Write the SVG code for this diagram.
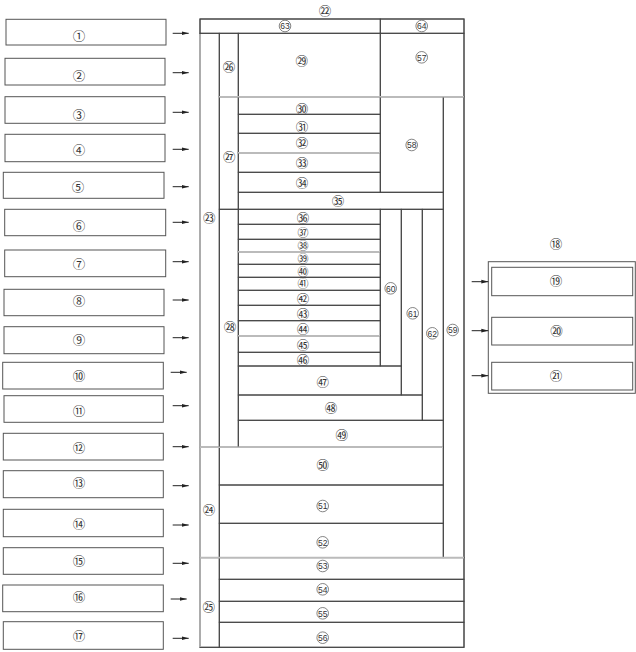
<svg xmlns="http://www.w3.org/2000/svg" width="636" height="652" viewBox="0 0 636 652">
<style>
.b{fill:none;stroke:#555;stroke-width:1}
.c{fill:none;stroke:#444;stroke-width:1}
.g{stroke:#bbb;stroke-width:1.6;fill:none}
.n{font-family:"Noto Sans CJK JP","DejaVu Sans",sans-serif;font-size:12.5px;fill:#333;text-anchor:middle;dominant-baseline:central}
.s{font-size:11px}
.cc{fill:#fff;stroke:#666;stroke-width:0.8}
.d{font-family:"Liberation Sans",Arial,sans-serif;font-size:8.5px;fill:#333;text-anchor:middle;dominant-baseline:central}
.a{stroke:#222;stroke-width:1;fill:none}
</style>
<defs>
<marker id="ah" markerWidth="7" markerHeight="5" refX="7" refY="2.5" orient="auto" markerUnits="userSpaceOnUse">
<path d="M0,0.6 L7,2.5 L0,4.4 Z" fill="#222"/>
</marker>
</defs>
<rect width="636" height="652" fill="#fff"/>

<!-- left boxes -->
<g id="n1"><rect class="b" x="6" y="19.3" width="160" height="25.7"/><text class="n" x="79" y="35.7">①</text></g>
<g id="n2"><rect class="b" x="5" y="58.3" width="160" height="26.7"/><text class="n" x="79" y="75">②</text></g>
<g id="n3"><rect class="b" x="5" y="96.7" width="160" height="26.6"/><text class="n" x="79" y="114">③</text></g>
<g id="n4"><rect class="b" x="5" y="134.3" width="160" height="27.4"/><text class="n" x="79" y="149">④</text></g>
<g id="n5"><rect class="b" x="3.3" y="172.3" width="160.7" height="26"/><text class="n" x="78" y="186">⑤</text></g>
<g id="n6"><rect class="b" x="4.7" y="209.3" width="161" height="26.4"/><text class="n" x="79" y="225">⑥</text></g>
<g id="n7"><rect class="b" x="4.7" y="250" width="161" height="26.7"/><text class="n" x="79" y="263.3">⑦</text></g>
<g id="n8"><rect class="b" x="4" y="289.3" width="160" height="26.4"/><text class="n" x="79" y="300">⑧</text></g>
<g id="n9"><rect class="b" x="4" y="326.7" width="160" height="27"/><text class="n" x="79" y="339.3">⑨</text></g>
<g id="n10"><rect class="b" x="2.7" y="362.3" width="160.6" height="26.7"/><text class="n" x="79" y="375.7">⑩</text></g>
<g id="n11"><rect class="b" x="4" y="395.7" width="159.3" height="26.6"/><text class="n" x="79" y="410.7">⑪</text></g>
<g id="n12"><rect class="b" x="3.3" y="433.3" width="160" height="26.7"/><text class="n" x="79" y="447.3">⑫</text></g>
<g id="n13"><rect class="b" x="3.3" y="470.7" width="160" height="27"/><text class="n" x="79" y="482.7">⑬</text></g>
<g id="n14"><rect class="b" x="3.3" y="509.3" width="160" height="27.4"/><text class="n" x="79" y="523.3">⑭</text></g>
<g id="n15"><rect class="b" x="3.3" y="547.7" width="160" height="26.6"/><text class="n" x="79" y="560">⑮</text></g>
<g id="n16"><rect class="b" x="2.7" y="585" width="160.6" height="26.7"/><text class="n" x="79" y="596.7">⑯</text></g>
<g id="n17"><rect class="b" x="3.3" y="621.7" width="160" height="27.6"/><text class="n" x="79" y="635">⑰</text></g>

<!-- right group -->
<g id="n18"><rect class="b" x="488.3" y="261.7" width="147" height="131.6"/><text class="n" x="556" y="243.3">⑱</text></g>
<g id="n19"><rect class="b" x="491.7" y="267.3" width="141" height="28.4"/><text class="n" x="556" y="280">⑲</text></g>
<g id="n20"><rect class="b" x="491.7" y="317.3" width="141" height="27.7"/><text class="n" x="556.5" y="330">⑳</text></g>
<g id="n21"><rect class="b" x="491.7" y="362.3" width="141" height="27.7"/><text class="n" x="556" y="375">㉑</text></g>

<!-- main grid -->
<g id="n22"><rect class="c" x="200" y="19" width="264" height="628.3"/><text class="n" x="325" y="10">㉒</text></g>
<g id="n63"><rect class="c" x="200" y="19" width="180.3" height="14.3"/><circle class="cc" cx="285" cy="26" r="5.8"/><text class="d" x="285" y="26.3">63</text></g>
<g id="n64"><rect class="c" x="380.3" y="19" width="83.7" height="14.3"/><circle class="cc" cx="421.7" cy="26" r="5.8"/><text class="d" x="421.7" y="26.3">64</text></g>
<g id="n23"><rect class="c" x="200" y="33.3" width="19.3" height="414"/><text class="n" x="209.3" y="217.3">㉓</text></g>
<g id="n24"><rect class="c" x="200" y="447.3" width="19.3" height="110.3"/><text class="n" x="209" y="509">㉔</text></g>
<g id="n25"><rect class="c" x="200" y="557.6" width="19.3" height="89.7"/><text class="n" x="208.7" y="606">㉕</text></g>
<g id="n26"><rect class="c" x="219.3" y="33.3" width="19" height="63.4"/><text class="n" x="229" y="66.7">㉖</text></g>
<g id="n27"><rect class="c" x="219.3" y="96.7" width="19" height="112.6"/><text class="n" x="229.3" y="156.7">㉗</text></g>
<g id="n28"><rect class="c" x="219.3" y="209.3" width="19" height="238"/><text class="n" x="230" y="326.7">㉘</text></g>
<g id="n29"><rect class="c" x="238.3" y="33.3" width="142" height="63.4"/><text class="n" x="301.7" y="60">㉙</text></g>
<g id="n57"><rect class="c" x="380.3" y="33.3" width="83.7" height="63.4"/><circle class="cc" cx="421.7" cy="57.3" r="5.8"/><text class="d" x="421.7" y="57.6">57</text></g>
<g id="n30"><rect class="c" x="238.3" y="96.7" width="142" height="17.6"/><text class="n" x="302" y="108.3">㉚</text></g>
<g id="n31"><rect class="c" x="238.3" y="114.3" width="142" height="19"/><text class="n" x="302" y="126">㉛</text></g>
<g id="n32"><rect class="c" x="238.3" y="133.3" width="142" height="19.4"/><text class="n" x="302" y="142.7">㉜</text></g>
<g id="n33"><rect class="c" x="238.3" y="152.7" width="142" height="19.6"/><text class="n" x="302" y="162.3">㉝</text></g>
<g id="n34"><rect class="c" x="238.3" y="172.3" width="142" height="20"/><text class="n" x="302" y="182.3">㉞</text></g>
<g id="n58"><rect class="c" x="380.3" y="96.7" width="63" height="95.6"/><circle class="cc" cx="411.7" cy="145" r="5.8"/><text class="d" x="411.7" y="145.3">58</text></g>
<g id="n59"><rect class="c" x="443.3" y="96.7" width="20.7" height="460.9"/><circle class="cc" cx="452.7" cy="330" r="5.8"/><text class="d" x="452.7" y="330.3">59</text></g>
<g id="n35"><rect class="c" x="238.3" y="192.3" width="205" height="17"/><text class="n" x="338" y="200">㉟</text></g>
<g id="n36"><rect class="c" x="238.3" y="209.3" width="142" height="15"/><text class="n" x="303" y="217">㊱</text></g>
<g id="n37"><rect class="c" x="238.3" y="224.3" width="142" height="15"/><text class="n s" x="303" y="232">㊲</text></g>
<g id="n38"><rect class="c" x="238.3" y="239.3" width="142" height="12.4"/><text class="n s" x="303" y="245.3">㊳</text></g>
<g id="n39"><rect class="c" x="238.3" y="251.7" width="142" height="12.6"/><text class="n s" x="303" y="258">㊴</text></g>
<g id="n40"><rect class="c" x="238.3" y="264.3" width="142" height="13"/><text class="n s" x="303" y="270.8">㊵</text></g>
<g id="n41"><rect class="c" x="238.3" y="277.3" width="142" height="13"/><text class="n s" x="303" y="283.2">㊶</text></g>
<g id="n42"><rect class="c" x="238.3" y="290.3" width="142" height="15"/><text class="n" x="303" y="298">㊷</text></g>
<g id="n43"><rect class="c" x="238.3" y="305.3" width="142" height="15.4"/><text class="n" x="303" y="313.3">㊸</text></g>
<g id="n44"><rect class="c" x="238.3" y="320.7" width="142" height="15"/><text class="n" x="303" y="328.3">㊹</text></g>
<g id="n45"><rect class="c" x="238.3" y="335.7" width="142" height="16.6"/><text class="n" x="303" y="344">㊺</text></g>
<g id="n46"><rect class="c" x="238.3" y="352.3" width="142" height="13.7"/><text class="n" x="303" y="359.3">㊻</text></g>
<g id="n60"><rect class="c" x="380.3" y="209.3" width="21" height="156.7"/><circle class="cc" cx="390.7" cy="288.3" r="5.8"/><text class="d" x="390.7" y="288.6">60</text></g>
<g id="n47"><rect class="c" x="238.3" y="366" width="163" height="29"/><text class="n" x="322.7" y="381.7">㊼</text></g>
<g id="n61"><rect class="c" x="401.3" y="209.3" width="21" height="185.7"/><circle class="cc" cx="412.7" cy="313.3" r="5.8"/><text class="d" x="412.7" y="313.6">61</text></g>
<g id="n48"><rect class="c" x="238.3" y="395" width="184" height="25.3"/><text class="n" x="331" y="407.3">㊽</text></g>
<g id="n62"><rect class="c" x="422.3" y="209.3" width="21" height="211"/><circle class="cc" cx="432.3" cy="333.3" r="5.8"/><text class="d" x="432.3" y="333.6">62</text></g>
<g id="n49"><rect class="c" x="238.3" y="420.3" width="205" height="27"/><text class="n" x="341.7" y="434.3">㊾</text></g>
<g id="n50"><rect class="c" x="219.3" y="447.3" width="224" height="37.7"/><text class="n" x="322.7" y="464.3">㊿</text></g>
<g id="n51"><rect class="c" x="219.3" y="485" width="224" height="38.3"/><circle class="cc" cx="322.7" cy="506" r="5.8"/><text class="d" x="322.7" y="506.3">51</text></g>
<g id="n52"><rect class="c" x="219.3" y="523.3" width="224" height="34.3"/><circle class="cc" cx="322.7" cy="542.3" r="5.8"/><text class="d" x="322.7" y="542.6">52</text></g>
<g id="n53"><rect class="c" x="219.3" y="557.6" width="244.7" height="21.7"/><circle class="cc" cx="322.7" cy="566" r="5.8"/><text class="d" x="322.7" y="566.3">53</text></g>
<g id="n54"><rect class="c" x="219.3" y="579.3" width="244.7" height="22"/><circle class="cc" cx="322.7" cy="589.3" r="5.8"/><text class="d" x="322.7" y="589.6">54</text></g>
<g id="n55"><rect class="c" x="219.3" y="601.3" width="244.7" height="21"/><circle class="cc" cx="322.7" cy="613.3" r="5.8"/><text class="d" x="322.7" y="613.6">55</text></g>
<g id="n56"><rect class="c" x="219.3" y="622.3" width="244.7" height="25"/><circle class="cc" cx="322.7" cy="637.7" r="5.8"/><text class="d" x="322.7" y="638">56</text></g>

<!-- faint scan lines -->
<g id="faint">
<line class="g" x1="200" y1="34" x2="200" y2="647"/>
<line class="g" x1="219" y1="96.7" x2="464" y2="96.7"/>
<line class="g" x1="238" y1="152.7" x2="380" y2="152.7"/>
<line class="g" x1="238" y1="251.7" x2="380" y2="251.7"/>
<line class="g" x1="238" y1="335.7" x2="380" y2="335.7"/>
<line class="g" x1="200" y1="447.3" x2="443" y2="447.3"/>
<line class="g" x1="200" y1="557.6" x2="464" y2="557.6"/>
</g>

<!-- connectors -->
<g id="connectors">
<line class="a" x1="172.7" y1="33.3" x2="188.7" y2="33.3" marker-end="url(#ah)"/>
<line class="a" x1="172.7" y1="72.7" x2="188.7" y2="72.7" marker-end="url(#ah)"/>
<line class="a" x1="172.7" y1="112.3" x2="188.7" y2="112.3" marker-end="url(#ah)"/>
<line class="a" x1="172.7" y1="149.3" x2="188.7" y2="149.3" marker-end="url(#ah)"/>
<line class="a" x1="172.7" y1="186.7" x2="188.7" y2="186.7" marker-end="url(#ah)"/>
<line class="a" x1="172.7" y1="222.3" x2="188.7" y2="222.3" marker-end="url(#ah)"/>
<line class="a" x1="172.7" y1="261.7" x2="188.7" y2="261.7" marker-end="url(#ah)"/>
<line class="a" x1="172.7" y1="300" x2="188.7" y2="300" marker-end="url(#ah)"/>
<line class="a" x1="172.7" y1="337.7" x2="188.7" y2="337.7" marker-end="url(#ah)"/>
<line class="a" x1="170.7" y1="372.3" x2="186.7" y2="372.3" marker-end="url(#ah)"/>
<line class="a" x1="172.7" y1="405.7" x2="188.7" y2="405.7" marker-end="url(#ah)"/>
<line class="a" x1="172.7" y1="446.7" x2="188.7" y2="446.7" marker-end="url(#ah)"/>
<line class="a" x1="172.7" y1="485.7" x2="188.7" y2="485.7" marker-end="url(#ah)"/>
<line class="a" x1="172.7" y1="525" x2="188.7" y2="525" marker-end="url(#ah)"/>
<line class="a" x1="172.7" y1="563.3" x2="188.7" y2="563.3" marker-end="url(#ah)"/>
<line class="a" x1="170.7" y1="599" x2="186.7" y2="599" marker-end="url(#ah)"/>
<line class="a" x1="172.7" y1="638.3" x2="188.7" y2="638.3" marker-end="url(#ah)"/>
<line class="a" x1="471.7" y1="281.7" x2="488.3" y2="281.7" marker-end="url(#ah)"/>
<line class="a" x1="471.7" y1="330.7" x2="488.3" y2="330.7" marker-end="url(#ah)"/>
<line class="a" x1="471.7" y1="375.7" x2="488.3" y2="375.7" marker-end="url(#ah)"/>
</g>
</svg>
